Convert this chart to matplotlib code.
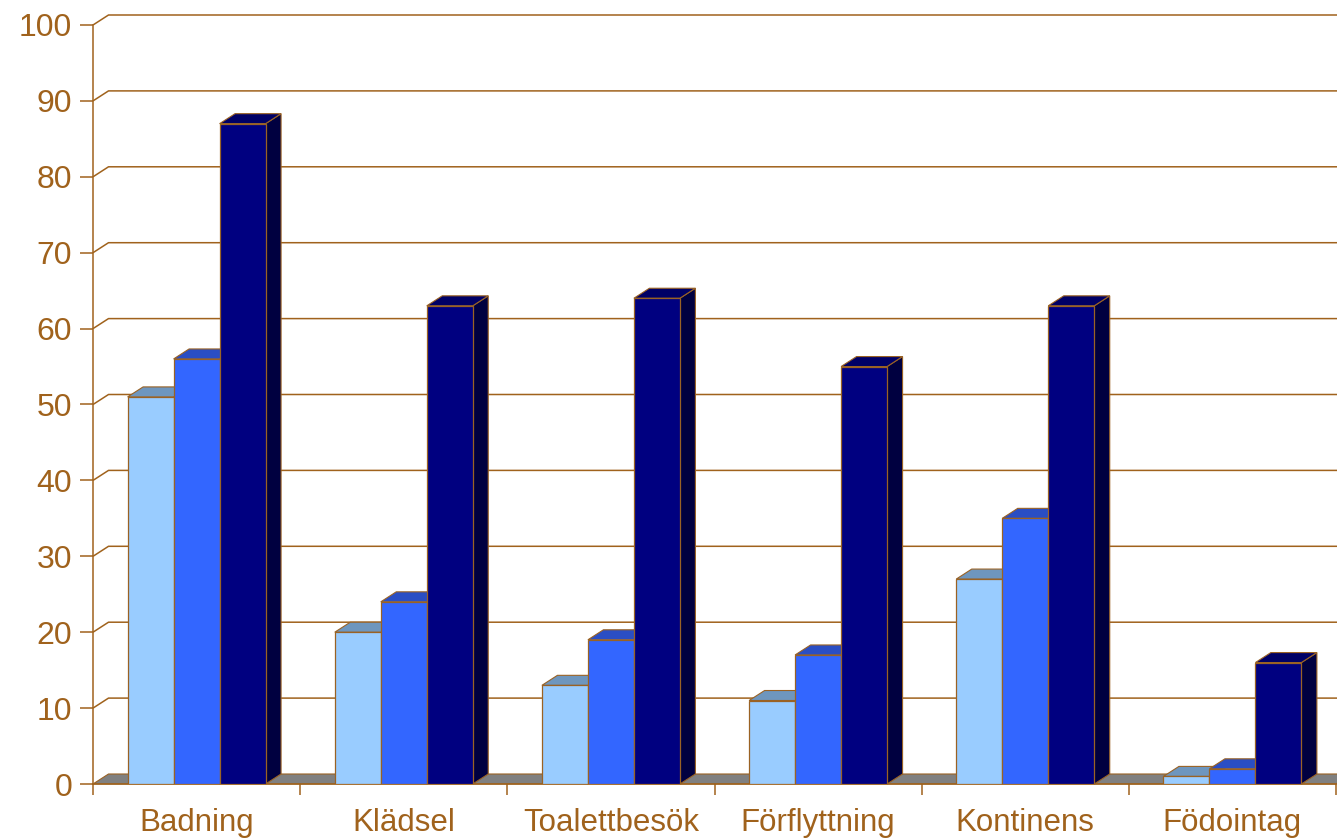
import matplotlib
matplotlib.use("Agg")
import matplotlib.pyplot as plt
from matplotlib.patches import Polygon
import numpy as np

categories = ["Badning", "Klädsel", "Toalettbesök", "Förflyttning", "Kontinens", "Födointag"]
series_a = [51, 20, 13, 11, 27, 1]
series_b = [56, 24, 19, 17, 35, 2]
series_c = [87, 63, 64, 55, 63, 16]
y_ticks = [0, 10, 20, 30, 40, 50, 60, 70, 80, 90, 100]

front_colors = ["#99CCFF", "#3366FF", "#000080"]
top_colors = ["#6E96BE", "#2A4EC4", "#000066"]
side_colors = ["#5A7DA6", "#1F3BA0", "#000040"]
edge = "#9A6224"
brown = "#A0621C"
floor_gray = "#808080"

W, H = 1337, 838
fig = plt.figure(figsize=(W / 100, H / 100), dpi=100)
left_px, right_px, bottom_px, top_px = 93, 1336, 784, 25
ax = fig.add_axes([left_px / W, 1 - bottom_px / H,
                   (right_px - left_px) / W, (bottom_px - top_px) / H])
n = len(categories)
ax.set_xlim(-0.5, n - 0.5)
ax.set_ylim(0, 100)

# depth offset of the pseudo-3D box, converted from pixels to data units
depth_px = np.array([15.5, 10.0])
p0 = ax.transData.transform((0, 0))
ddx, ddy = ax.transData.inverted().transform(p0 + depth_px)

# floor
floor = Polygon([(-0.5, 0), (n - 0.5, 0), (n - 0.5 + ddx, ddy), (-0.5 + ddx, ddy)],
                closed=True, facecolor=floor_gray, edgecolor=edge, lw=0.8,
                zorder=0.5, clip_on=False)
ax.add_patch(floor)

# gridlines on the back wall and side wall
for v in y_ticks[1:]:
    ax.plot([-0.5, -0.5 + ddx, n - 0.5 + 2 * ddx], [v, v + ddy, v + ddy],
            color=brown, lw=1.1, zorder=0.8, clip_on=False, solid_capstyle="butt")

# bars with top and side faces
width = 0.222
offsets = [-width, 0, width]
all_series = [series_a, series_b, series_c]
for i in range(n):
    for s, vals in enumerate(all_series):
        h = vals[i]
        x0 = i + offsets[s] - width / 2
        x1 = x0 + width
        z = 2 + s
        side = Polygon([(x1, 0), (x1 + ddx, ddy), (x1 + ddx, h + ddy), (x1, h)],
                       closed=True, facecolor=side_colors[s], edgecolor=edge,
                       lw=0.8, zorder=z, clip_on=False)
        top = Polygon([(x0, h), (x1, h), (x1 + ddx, h + ddy), (x0 + ddx, h + ddy)],
                      closed=True, facecolor=top_colors[s], edgecolor=edge,
                      lw=0.8, zorder=z, clip_on=False)
        ax.add_patch(side)
        ax.add_patch(top)
        ax.bar(x0, h, width=width, align="edge", color=front_colors[s],
               edgecolor=edge, linewidth=0.9, zorder=z + 0.1)

# axes styling
for sp in ["top", "right"]:
    ax.spines[sp].set_visible(False)
for sp in ["left", "bottom"]:
    ax.spines[sp].set_color(brown)
    ax.spines[sp].set_linewidth(1.1)
    ax.spines[sp].set_zorder(1)

ax.set_yticks(y_ticks)
ax.tick_params(axis="y", direction="out", length=9.4, width=1.1, color=brown,
               labelcolor=brown, labelsize=23, pad=5.5)
ax.set_xticks(np.arange(-0.5, n, 1.0))
ax.set_xticklabels([])
ax.set_xticks(np.arange(n), minor=True)
ax.set_xticklabels(categories, minor=True)
ax.tick_params(axis="x", which="major", direction="out", length=8, width=1.1, color=brown)
ax.tick_params(axis="x", which="minor", length=0, labelcolor=brown, labelsize=22.5, pad=17.5)
for lab in ax.get_xticklabels(minor=True) + ax.get_yticklabels():
    lab.set_fontfamily(["Liberation Sans", "DejaVu Sans"])

ax.set_facecolor("none")
fig.savefig("out.png", dpi=100, facecolor="white")
